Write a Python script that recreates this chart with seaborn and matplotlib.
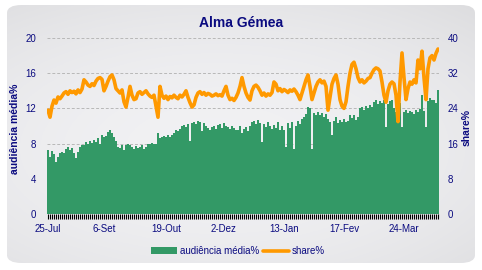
import numpy as np
import pandas as pd
import matplotlib
matplotlib.use("Agg")
import matplotlib.pyplot as plt
import seaborn as sns
from matplotlib.patches import FancyBboxPatch, Patch
from matplotlib.lines import Line2D

# ---------------- data ----------------
audiencia = [
    7.3, 6.5, 7.2, 6.8, 5.9, 6.5, 6.9, 7.0, 6.9, 7.4, 7.6, 7.3, 7.5, 6.9, 6.4,
    7.0, 7.6, 7.8, 7.8, 8.2, 7.9, 8.3, 8.1, 8.4, 8.2, 8.6, 8.0, 9.0,
    8.7, 8.9, 9.3, 9.5, 9.2, 8.8, 8.3, 7.6, 7.5, 7.8, 7.3, 7.8,
    8.0, 7.8, 7.6, 7.4, 7.7, 7.5, 7.6, 7.8, 7.4, 7.6, 7.9, 8.0, 8.1, 7.9, 8.0, 9.2,
    8.6, 8.7, 8.9, 8.8, 9.0, 8.7, 9.0, 9.2, 9.5, 9.4, 9.7, 10.0, 10.1, 9.9, 10.2, 8.3,
    10.3, 10.5, 10.2, 10.6, 10.4, 9.4, 10.3, 10.0, 9.8, 9.6, 9.9, 10.0, 9.7,
    10.1, 10.2, 9.8, 10.3, 10.0, 9.9, 9.7, 10.0, 9.8, 9.6,
    9.5, 10.0, 9.2, 9.7, 9.9, 9.4, 10.0, 10.4, 10.6, 10.2, 10.7, 10.3, 8.2,
    10.2, 9.9, 10.5, 10.0, 9.7, 10.1, 9.8, 10.4, 9.6, 10.0, 9.5, 7.6,
    10.3, 9.8, 10.5, 7.4, 10.0, 10.6, 10.2, 10.8, 11.0, 11.4, 12.2, 12.0, 7.4,
    11.5, 11.3, 11.6, 11.2, 11.5, 11.0, 11.4, 10.8, 10.5, 9.0, 10.6, 11.0, 10.3,
    10.7, 10.5, 10.8, 10.4, 10.6, 11.2, 10.9, 11.3, 10.7, 11.0,
    12.0, 12.2, 11.8, 12.3, 12.0, 12.4, 12.2, 12.7, 13.0, 12.5, 12.8, 12.6, 13.0,
    9.9, 12.5, 12.8, 13.0, 12.0, 11.6, 12.2, 12.6, 9.9,
    11.6, 11.8, 11.5, 11.7, 11.6, 11.4, 11.8, 11.6, 11.9, 13.5, 11.7, 9.9,
    12.8, 13.2, 12.9, 13.0, 12.6, 14.1,
]
share = [
    23.6, 22.0, 24.5, 25.9, 25.2, 26.6, 26.2, 26.8,
    27.5, 27.8, 27.2, 28.0, 27.6, 27.9, 27.3, 28.2, 27.6, 28.4, 30.5, 30.0,
    29.3, 29.0, 29.6, 29.2, 30.2, 30.8, 31.0, 30.6, 28.0,
    29.0, 30.2, 31.2, 31.6, 30.5, 28.5, 28.0, 27.5, 28.2,
    25.5, 24.3, 26.5, 29.0, 27.0, 26.0, 26.2,
    27.5, 27.8, 27.2, 27.6, 28.0, 27.3, 26.8, 26.5, 27.0, 24.5, 22.0, 29.0, 27.0,
    26.3, 26.8, 26.0, 26.7, 26.4, 27.0, 26.5, 26.2, 27.0, 26.6, 27.2, 28.0, 26.5,
    25.3, 24.3, 24.8, 26.5, 27.5, 27.8, 27.2, 27.6, 27.0,
    27.4, 27.2, 26.8, 27.0, 27.3, 26.9, 27.1, 26.8, 28.0, 29.0, 27.0,
    26.0, 26.3, 25.8, 26.5, 27.5, 29.0, 31.0, 29.0, 27.5, 26.5, 25.9,
    28.0, 29.0, 29.3, 28.8, 28.0, 27.0, 27.5, 26.8, 27.3, 27.0, 27.6, 30.0, 29.5,
    28.0, 28.5, 27.8, 28.3, 28.0, 27.6, 28.2, 27.9, 28.4, 27.8, 27.0, 26.0, 27.5,
    29.0, 30.5, 31.6, 29.0, 26.0, 27.5, 29.0, 30.0, 30.5, 29.8, 30.2, 29.0,
    23.6, 26.5, 29.5, 30.8, 31.6, 29.5, 26.0, 24.5, 24.0, 25.5,
    29.0, 32.0, 34.0, 34.5, 33.0, 31.0, 30.0, 30.5, 29.8, 30.2, 30.8, 31.0, 32.0,
    32.8, 33.2, 33.0, 32.5, 30.0, 27.0, 25.4, 28.0, 29.5, 30.0, 29.6, 27.0, 21.0,
    30.0, 36.6, 31.0, 26.0, 28.5, 30.0, 29.5, 30.5, 29.8, 35.0, 33.0, 37.0, 31.0, 26.0,
    33.0, 35.5, 36.0, 35.0, 36.5, 37.5,
]
tick_labels = ['25-Jul', '6-Set', '19-Out', '2-Dez', '13-Jan', '17-Fev', '24-Mar']
tick_index = [0, 28, 59, 88, 118, 148, 178]
left_ticks = [0, 4, 8, 12, 16, 20]
right_ticks = [0, 8, 16, 24, 32, 40]

df = pd.DataFrame({"dia": np.arange(len(audiencia)), "audiencia": audiencia, "share": share})

# ---------------- style ----------------
sns.set_style("white")
plt.rcParams['font.family'] = ['Liberation Sans', 'DejaVu Sans']
navy = '#0b0b80'
green = '#339966'
orange = '#FF9900'

W, H = 482, 270
fig = plt.figure(figsize=(W / 100, H / 100), dpi=100)
fig.patch.set_facecolor('white')

# background panel with gradient
bg = fig.add_axes([0, 0, 1, 1], zorder=-10)
bg.set_axis_off()
yy, xx = np.mgrid[0:1:200j, 0:1:300j]
grad = 0.955 - 0.10 * ((xx - 0.45) ** 2 * 1.2 + (yy - 0.55) ** 2 * 1.6)
img = np.dstack([grad * 0.99, grad * 0.99, grad * 1.0])
img = np.clip(img, 0, 1)
im = bg.imshow(img, extent=[0, 1, 0, 1], aspect='auto', transform=bg.transAxes, zorder=0)
panel = FancyBboxPatch((7 / W, 7 / H), 468 / W, 258 / H,
                       boxstyle="round,pad=0,rounding_size=0.03",
                       transform=bg.transAxes, facecolor='none', edgecolor='none')
bg.add_patch(panel)
im.set_clip_path(panel)
bg.set_xlim(0, 1)
bg.set_ylim(0, 1)

# axes width = 2 px per bar so bar edges fall on whole pixels
n = len(audiencia)
ax = fig.add_axes([47 / W, (H - 214) / H, (2 * n) / W, 176 / H])
ax.patch.set_alpha(0)
sns.barplot(data=df, x="dia", y="audiencia", color=green, width=1.0, saturation=1,
            linewidth=0, ax=ax, zorder=2)
ax.set_xlim(-0.5, n - 0.5)
ax.set_ylim(0, 20)
ax.set_yticks(left_ticks)
ax.set_yticklabels([str(v) for v in left_ticks])
ax.yaxis.grid(True, color='#b8b8b8', linestyle=(0, (3, 2)), linewidth=0.7, zorder=0)
ax.xaxis.grid(False)
ax.set_axisbelow(True)
ax.set_xticks(np.arange(n))
lbls = [''] * n
for i, t in zip(tick_index, tick_labels):
    lbls[i] = t
ax.set_xticklabels(lbls)
ax.tick_params(axis='x', bottom=True, length=3.5, width=0.8, color='black', direction='out',
               pad=4, labelsize=7, labelcolor=navy)
ax.tick_params(axis='y', left=False, length=0, pad=8, labelsize=7, labelcolor=navy)
ax.set_xlabel('')
ax.set_ylabel('')
for s in ax.spines.values():
    s.set_visible(False)

ax2 = ax.twinx()
sns.lineplot(data=df, x="dia", y="share", color=orange, linewidth=2.6, ax=ax2, zorder=3)
ax2.set_ylim(0, 40)
ax2.set_yticks(right_ticks)
ax2.set_yticklabels([str(v) for v in right_ticks])
ax2.tick_params(axis='y', right=False, length=0, pad=6, labelsize=7, labelcolor=navy)
ax2.tick_params(axis='x', bottom=False, top=False)
ax2.grid(False)
ax2.set_xlabel('')
ax2.set_ylabel('')
ax2.set_xlim(-0.5, n - 0.5)
for s in ax2.spines.values():
    s.set_visible(False)

fig.text(241 / W, 1 - 23 / H, 'Alma Gémea', ha='center', va='center',
         fontsize=10, fontweight='bold', color=navy)
fig.text(15 / W, 1 - 129 / H, 'audiência média%', rotation=90, ha='center', va='center',
         fontsize=7.5, fontweight='bold', color=navy)
fig.text(467 / W, 1 - 127 / H, 'share%', rotation=90, ha='center', va='center',
         fontsize=7.5, fontweight='bold', color=navy)

handles = [Patch(facecolor=green, edgecolor='none'), Line2D([], [], color=orange, linewidth=2.6)]
leg = fig.legend(handles, ['audiência média%', 'share%'], loc='center',
                 bbox_to_anchor=(238 / W, 1 - 251 / H), ncol=2, frameon=False,
                 fontsize=7, handlelength=2.7, handleheight=0.6, columnspacing=0.4,
                 handletextpad=0.3, labelcolor=navy)

fig.savefig('out.png', dpi=100)
